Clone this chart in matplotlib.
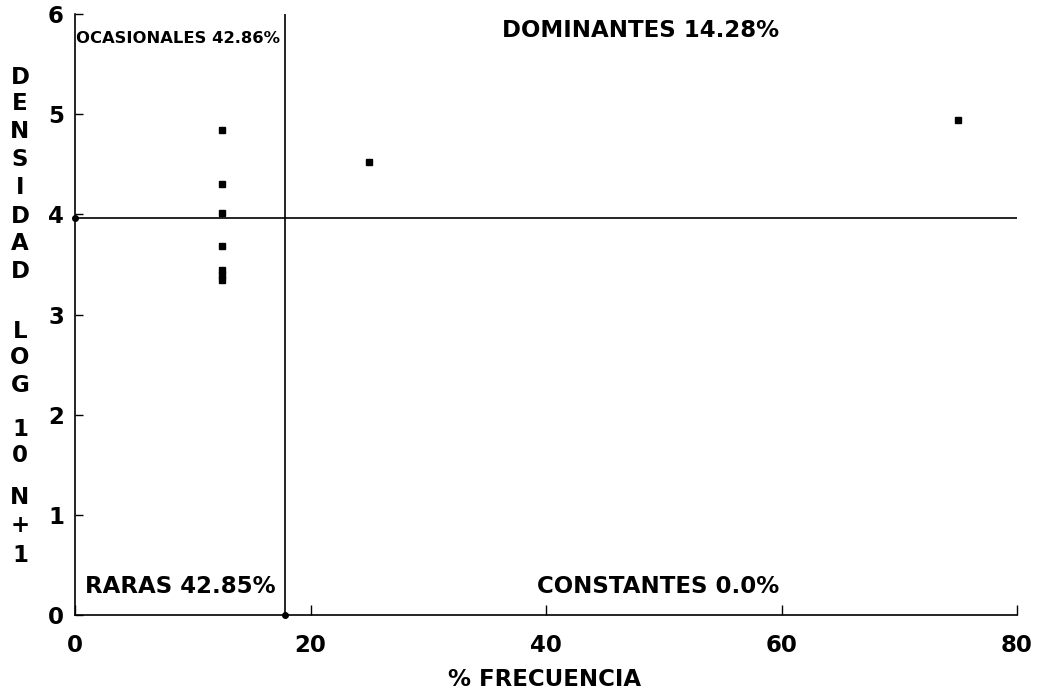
import matplotlib
matplotlib.use("Agg")
import matplotlib.pyplot as plt

plt.rcParams['font.family'] = ['DejaVu Sans']
plt.rcParams['font.weight'] = 'bold'

# species: % frequency vs density log10(N+1)
frecuencia = [12.5, 12.5, 12.5, 12.5, 12.5, 12.5, 12.5, 25.0, 75.0]
densidad = [4.84, 4.30, 4.01, 3.68, 3.44, 3.39, 3.34, 4.52, 4.94]

# quadrant thresholds (mean frequency, mean density)
frec_media = 17.86
dens_media = 3.96

x_ticks = [0, 20, 40, 60, 80]
y_ticks = [0, 1, 2, 3, 4, 5, 6]

fig = plt.figure(figsize=(10.39, 6.98), dpi=100)
ax = fig.add_axes([75 / 1039, 83 / 698, 942 / 1039, 601 / 698])

ax.plot([frec_media, frec_media], [0, 6], color='black', lw=1.2)
ax.plot([0, 80], [dens_media, dens_media], color='black', lw=1.2)
ax.plot([frec_media, 0], [0, dens_media], 'o', color='black', ms=4, clip_on=False)
ax.plot(frecuencia, densidad, 's', color='black', ms=4.5, clip_on=False)

ax.set_xlim(0, 80)
ax.set_ylim(0, 6)
ax.spines['top'].set_visible(False)
ax.spines['right'].set_visible(False)
for s in ['left', 'bottom']:
    ax.spines[s].set_linewidth(1.2)

ax.set_xticks(x_ticks)
ax.set_yticks(y_ticks)
ax.tick_params(axis='x', direction='in', length=7, width=1, pad=14, labelsize=16.5)
ax.tick_params(axis='y', direction='in', length=6, width=1, pad=8, labelsize=16.5)

# quadrant names with their share of species
ax.text(0.12, 5.76, 'OCASIONALES 42.86%', fontsize=11.8, ha='left', va='center')
ax.text(36.3, 5.84, 'DOMINANTES 14.28%', fontsize=16.5, ha='left', va='center')
ax.text(0.85, 0.28, 'RARAS 42.85%', fontsize=16.5, ha='left', va='center')
ax.text(39.2, 0.28, 'CONSTANTES 0.0%', fontsize=16.5, ha='left', va='center')

fig.text(545 / 1039, 1 - 680 / 698, '% FRECUENCIA', fontsize=16.5, ha='center', va='center')

# stacked y axis title, one character per row
letras = ['D', 'E', 'N', 'S', 'I', 'D', 'A', 'D',
          'L', 'O', 'G', '1', '0', 'N', '+', '1']
filas = [77, 103, 131, 159, 187, 216, 243, 271,
         332, 358, 385, 430, 456, 497, 526, 555]
for letra, fila in zip(letras, filas):
    fig.text(20 / 1039, 1 - fila / 698, letra, fontsize=16.5, ha='center', va='center')

fig.savefig('out.png', dpi=100)
